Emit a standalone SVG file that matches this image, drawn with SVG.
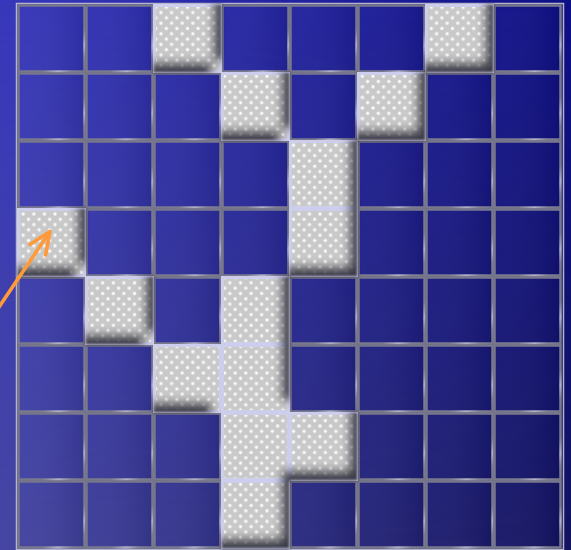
<svg xmlns="http://www.w3.org/2000/svg" width="571" height="550" viewBox="0 0 571 550">
<defs>
<linearGradient id="bgTop" x1="0" y1="0" x2="1" y2="0"><stop offset="0" stop-color="#3838bc"/><stop offset="1" stop-color="#0f0f86"/></linearGradient>
<linearGradient id="bgBot" x1="0" y1="0" x2="1" y2="0"><stop offset="0" stop-color="#4646a2"/><stop offset="1" stop-color="#131360"/></linearGradient>
<linearGradient id="vm" x1="0" y1="0" x2="0" y2="1"><stop offset="0" stop-color="#fff" stop-opacity="0"/><stop offset="1" stop-color="#fff" stop-opacity="1"/></linearGradient>
<mask id="vmask" maskUnits="userSpaceOnUse" x="0" y="0" width="571" height="550"><rect x="0" y="0" width="571" height="550" fill="url(#vm)"/></mask>
<linearGradient id="cf" x1="0" y1="0" x2="1" y2="0"><stop offset="0" stop-color="#ffffff" stop-opacity="0.02"/><stop offset="1" stop-color="#000010" stop-opacity="0.09"/></linearGradient>
<linearGradient id="gs" x1="0" y1="0" x2="1" y2="1"><stop offset="0" stop-color="#76768a"/><stop offset="0.68" stop-color="#7a7a8e"/><stop offset="0.8" stop-color="#b0b0c6"/><stop offset="0.9" stop-color="#808094"/><stop offset="1" stop-color="#76768a"/></linearGradient>
<radialGradient id="dotg"><stop offset="0" stop-color="#ffffff" stop-opacity="1"/><stop offset="0.45" stop-color="#ffffff" stop-opacity="0.85"/><stop offset="1" stop-color="#ffffff" stop-opacity="0"/></radialGradient>
<pattern id="dots" patternUnits="userSpaceOnUse" x="2" y="2" width="10.6" height="10.6">
<rect width="10.6" height="10.6" fill="#c9c9c9"/>
<circle cx="0" cy="0" r="2.3" fill="url(#dotg)"/>
<circle cx="10.6" cy="0" r="2.3" fill="url(#dotg)"/>
<circle cx="0" cy="10.6" r="2.3" fill="url(#dotg)"/>
<circle cx="10.6" cy="10.6" r="2.3" fill="url(#dotg)"/>
<circle cx="5.3" cy="5.3" r="2.3" fill="url(#dotg)"/>
</pattern>
<filter id="inset" x="-5%" y="-5%" width="110%" height="110%">
<feOffset in="SourceAlpha" dx="-9" dy="-11" result="o"/>
<feGaussianBlur in="o" stdDeviation="4.5" result="b"/>
<feComposite in="SourceAlpha" in2="b" operator="out" result="band"/>
<feFlood flood-color="#3c3c4a" flood-opacity="1"/>
<feComposite in2="band" operator="in" result="sh"/>
<feGaussianBlur in="sh" stdDeviation="1.8" result="sh2"/>
<feMerge><feMergeNode in="SourceGraphic"/><feMergeNode in="sh2"/></feMerge>
</filter>
<marker id="ah" markerUnits="userSpaceOnUse" orient="auto" refX="0" refY="0" markerWidth="40" markerHeight="40" viewBox="-30 -20 40 40" overflow="visible">
<path d="M-22,-9.5 L0,0 L-22,9.5" fill="none" stroke="#ff9a3a" stroke-width="3.6" stroke-linecap="round" stroke-linejoin="round"/>
</marker>
</defs>
<style>
.d rect{fill:url(#cf);stroke:url(#gs);stroke-width:2.5}
.l rect{fill:url(#dots);stroke:#cdcdec;stroke-width:3}
</style>
<rect x="0" y="0" width="571" height="550" fill="url(#bgTop)"/>
<rect x="0" y="0" width="571" height="550" fill="url(#bgBot)" mask="url(#vmask)"/>
<rect x="16.5" y="3.5" width="547" height="546" fill="none" stroke="#b4b4cc" stroke-width="1.5"/>
<g id="dark-cells" class="d">
<g id="c0-0"><rect x="18.5" y="5.5" width="66" height="66"/></g>
<g id="c0-1"><rect x="86.5" y="5.5" width="66" height="66"/></g>
<g id="c0-3"><rect x="222.5" y="5.5" width="66" height="66"/></g>
<g id="c0-4"><rect x="290.5" y="5.5" width="66" height="66"/></g>
<g id="c0-5"><rect x="358.5" y="5.5" width="66" height="66"/></g>
<g id="c0-7"><rect x="494.5" y="5.5" width="66" height="66"/></g>
<g id="c1-0"><rect x="18.5" y="73.5" width="66" height="66"/></g>
<g id="c1-1"><rect x="86.5" y="73.5" width="66" height="66"/></g>
<g id="c1-2"><rect x="154.5" y="73.5" width="66" height="66"/></g>
<g id="c1-4"><rect x="290.5" y="73.5" width="66" height="66"/></g>
<g id="c1-6"><rect x="426.5" y="73.5" width="66" height="66"/></g>
<g id="c1-7"><rect x="494.5" y="73.5" width="66" height="66"/></g>
<g id="c2-0"><rect x="18.5" y="141.5" width="66" height="66"/></g>
<g id="c2-1"><rect x="86.5" y="141.5" width="66" height="66"/></g>
<g id="c2-2"><rect x="154.5" y="141.5" width="66" height="66"/></g>
<g id="c2-3"><rect x="222.5" y="141.5" width="66" height="66"/></g>
<g id="c2-5"><rect x="358.5" y="141.5" width="66" height="66"/></g>
<g id="c2-6"><rect x="426.5" y="141.5" width="66" height="66"/></g>
<g id="c2-7"><rect x="494.5" y="141.5" width="66" height="66"/></g>
<g id="c3-1"><rect x="86.5" y="209.5" width="66" height="66"/></g>
<g id="c3-2"><rect x="154.5" y="209.5" width="66" height="66"/></g>
<g id="c3-3"><rect x="222.5" y="209.5" width="66" height="66"/></g>
<g id="c3-5"><rect x="358.5" y="209.5" width="66" height="66"/></g>
<g id="c3-6"><rect x="426.5" y="209.5" width="66" height="66"/></g>
<g id="c3-7"><rect x="494.5" y="209.5" width="66" height="66"/></g>
<g id="c4-0"><rect x="18.5" y="277.5" width="66" height="66"/></g>
<g id="c4-2"><rect x="154.5" y="277.5" width="66" height="66"/></g>
<g id="c4-4"><rect x="290.5" y="277.5" width="66" height="66"/></g>
<g id="c4-5"><rect x="358.5" y="277.5" width="66" height="66"/></g>
<g id="c4-6"><rect x="426.5" y="277.5" width="66" height="66"/></g>
<g id="c4-7"><rect x="494.5" y="277.5" width="66" height="66"/></g>
<g id="c5-0"><rect x="18.5" y="345.5" width="66" height="66"/></g>
<g id="c5-1"><rect x="86.5" y="345.5" width="66" height="66"/></g>
<g id="c5-4"><rect x="290.5" y="345.5" width="66" height="66"/></g>
<g id="c5-5"><rect x="358.5" y="345.5" width="66" height="66"/></g>
<g id="c5-6"><rect x="426.5" y="345.5" width="66" height="66"/></g>
<g id="c5-7"><rect x="494.5" y="345.5" width="66" height="66"/></g>
<g id="c6-0"><rect x="18.5" y="413.5" width="66" height="66"/></g>
<g id="c6-1"><rect x="86.5" y="413.5" width="66" height="66"/></g>
<g id="c6-2"><rect x="154.5" y="413.5" width="66" height="66"/></g>
<g id="c6-5"><rect x="358.5" y="413.5" width="66" height="66"/></g>
<g id="c6-6"><rect x="426.5" y="413.5" width="66" height="66"/></g>
<g id="c6-7"><rect x="494.5" y="413.5" width="66" height="66"/></g>
<g id="c7-0"><rect x="18.5" y="481.5" width="66" height="66"/></g>
<g id="c7-1"><rect x="86.5" y="481.5" width="66" height="66"/></g>
<g id="c7-2"><rect x="154.5" y="481.5" width="66" height="66"/></g>
<g id="c7-4"><rect x="290.5" y="481.5" width="66" height="66"/></g>
<g id="c7-5"><rect x="358.5" y="481.5" width="66" height="66"/></g>
<g id="c7-6"><rect x="426.5" y="481.5" width="66" height="66"/></g>
<g id="c7-7"><rect x="494.5" y="481.5" width="66" height="66"/></g>
</g>
<g id="light-cells" class="l" filter="url(#inset)">
<g id="c0-2"><rect x="154.5" y="5.5" width="66" height="66"/></g>
<g id="c0-6"><rect x="426.5" y="5.5" width="66" height="66"/></g>
<g id="c1-3"><rect x="222.5" y="73.5" width="66" height="66"/></g>
<g id="c1-5"><rect x="358.5" y="73.5" width="66" height="66"/></g>
<g id="c2-4"><rect x="290.5" y="141.5" width="66" height="66"/></g>
<g id="c3-0"><rect x="18.5" y="209.5" width="66" height="66"/></g>
<g id="c3-4"><rect x="290.5" y="209.5" width="66" height="66"/></g>
<g id="c4-1"><rect x="86.5" y="277.5" width="66" height="66"/></g>
<g id="c4-3"><rect x="222.5" y="277.5" width="66" height="66"/></g>
<g id="c5-2"><rect x="154.5" y="345.5" width="66" height="66"/></g>
<g id="c5-3"><rect x="222.5" y="345.5" width="66" height="66"/></g>
<g id="c6-3"><rect x="222.5" y="413.5" width="66" height="66"/></g>
<g id="c6-4"><rect x="290.5" y="413.5" width="66" height="66"/></g>
<g id="c7-3"><rect x="222.5" y="481.5" width="66" height="66"/></g>
</g>
<g id="connectors">
<path d="M-10,320.3 L50,231.5" fill="none" stroke="#ff9a3a" stroke-width="3.6" marker-end="url(#ah)"/>
</g>
</svg>
